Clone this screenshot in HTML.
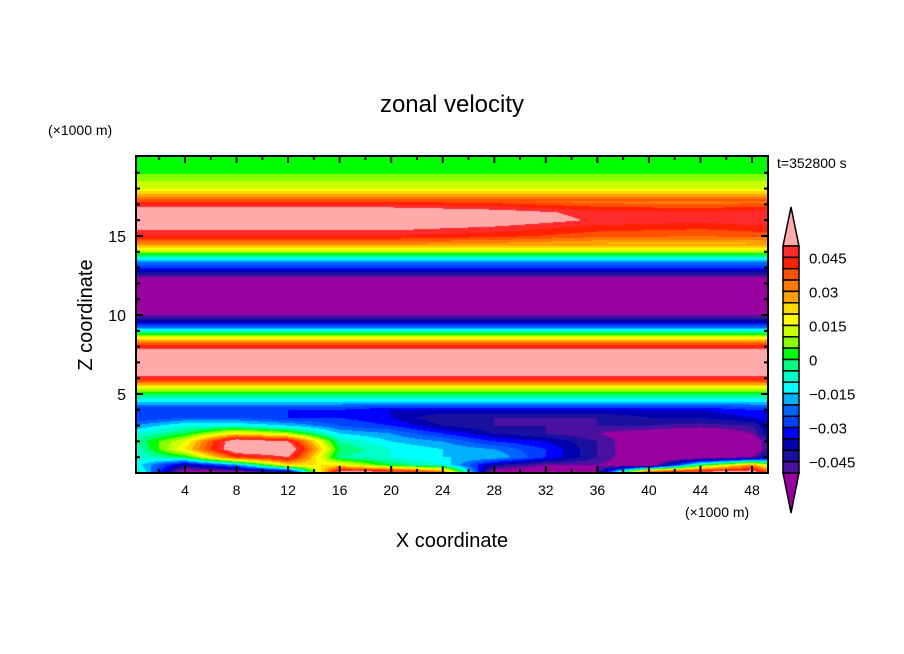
<!DOCTYPE html>
<html><head><meta charset="utf-8"><style>
body{margin:0;background:#fff;width:904px;height:654px;overflow:hidden;font-family:"Liberation Sans",sans-serif}
#wrap{position:relative;width:904px;height:654px}
canvas{position:absolute;left:136px;top:156px}
svg{position:absolute;left:0;top:0}
</style></head><body>
<div id="wrap">
<canvas id="cv" width="632" height="317"></canvas>
<svg id="sv" width="904" height="654">
<text x="452" y="112" font-size="24" text-anchor="middle" font-family="Liberation Sans">zonal velocity</text>
<text x="48" y="135" font-size="14">(×1000 m)</text>
<text x="777" y="168" font-size="14">t=352800 s</text>
<text x="685" y="517" font-size="14">(×1000 m)</text>
<text x="452" y="547" font-size="20" text-anchor="middle">X coordinate</text>
<text x="92" y="315" font-size="20" text-anchor="middle" transform="rotate(-90 92 315)">Z coordinate</text>
<g id="axes"></g>
<g id="cbar"></g>
</svg>
</div>
<script>
const lowerZ=[0,0.5,1,1.5,2,2.5,3,3.5,4,4.5];
const lowerX=[0,4,8,12,16,20,24,28,32,36,40,44,48,50];
const lowerU=[
[0.0,-0.06,-0.06,-0.05,0.06,0.06,0.04,-0.06,-0.06,-0.05,0.06,0.06,0.06,0.03],
[-0.01,-0.04,-0.02,0.02,0.02,0.0,-0.01,-0.04,-0.05,-0.05,-0.06,0.0,0.03,0.0],
[-0.01,0.0,0.04,0.05,-0.005,-0.01,-0.015,-0.015,-0.03,-0.045,-0.06,-0.06,-0.05,-0.03],
[-0.01,0.02,0.06,0.06,0.0,-0.01,-0.015,-0.02,-0.03,-0.045,-0.06,-0.06,-0.06,-0.035],
[-0.005,0.015,0.06,0.05,-0.005,-0.015,-0.02,-0.03,-0.035,-0.045,-0.06,-0.06,-0.06,-0.035],
[-0.01,0.0,0.02,0.01,-0.015,-0.02,-0.03,-0.04,-0.045,-0.05,-0.055,-0.06,-0.05,-0.03],
[-0.02,-0.01,-0.01,-0.015,-0.025,-0.03,-0.04,-0.045,-0.045,-0.045,-0.045,-0.047,-0.045,-0.03],
[-0.03,-0.025,-0.025,-0.03,-0.03,-0.035,-0.045,-0.045,-0.045,-0.045,-0.04,-0.04,-0.035,-0.03],
[-0.03,-0.03,-0.03,-0.03,-0.03,-0.035,-0.035,-0.035,-0.035,-0.035,-0.035,-0.035,-0.03,-0.03],
[-0.015,-0.015,-0.015,-0.015,-0.015,-0.015,-0.015,-0.015,-0.015,-0.015,-0.015,-0.015,-0.015,-0.015]];
const profZ0=5, profDz=0.5;
const profU=[0.0,0.02,0.047,0.06,0.065,0.06,0.045,0.02,-0.01,-0.035,-0.05,-0.065,-0.07,-0.07,-0.065,-0.047,-0.03,-0.015,0.01,0.03,0.045,0.052,0.06,0.058,0.045,0.03,0.015,0.01,0.004,0.003,0.002];
const upperX=[0,10,20,28,36,44,50];
const upperPeak=[0.06,0.06,0.06,0.056,0.049,0.047,0.05];
const binColors=["#ff2a2a","#ff2000","#ff5000","#ff7800","#ffa000","#ffd800","#ffff00","#ccff00","#88ff00","#00ff00","#00ff80","#00ffc8","#00ffff","#00b0ff","#0064ff","#0040ff","#0000ff","#0000b0","#1a10a0","#4a10a0"];
const overColor="#ffaaaa", underColor="#9900a0";
const tickLabels=["0.045","0.03","0.015","0","\u22120.015","\u22120.03","\u22120.045"];
const tickVals=[0.045,0.03,0.015,0,-0.015,-0.03,-0.045];
const xTicks=[4,8,12,16,20,24,28,32,36,40,44,48];
const zTicks=[5,10,15];

const PX0=136,PX1=768,PY0=156,PY1=473;
const sx=v=>185+(v-4)*(752-185)/44;
const sz=v=>473-v*15.8;
const ix=p=>4+(p-185)*44/(752-185);
const iz=p=>(473-p)/15.8;
function lerp(a,b,t){return a+(b-a)*t}
function interpArr(xs,ys,x){if(x<=xs[0])return ys[0];for(let i=0;i<xs.length-1;i++){if(x<=xs[i+1])return lerp(ys[i],ys[i+1],(x-xs[i])/(xs[i+1]-xs[i]));}return ys[ys.length-1];}
function profAt(z){const f=(z-profZ0)/profDz;const i=Math.max(0,Math.min(profU.length-2,Math.floor(f)));return lerp(profU[i],profU[i+1],Math.max(0,Math.min(1,f-i)));}
function field(x,z){
  if(z<=4.5){const f=z/0.5;const i=Math.min(8,Math.floor(f));const t=f-i;
    return lerp(interpArr(lowerX,lowerU[i],x),interpArr(lowerX,lowerU[i+1],x),t);}
  if(z<5){return lerp(interpArr(lowerX,lowerU[9],x),profAt(5),(z-4.5)/0.5);}
  let v=profAt(z);
  if(z>14.5&&z<17.2&&v>0){v=v*interpArr(upperX,upperPeak,x)/0.06;}
  return v;
}
function colorOf(v){if(v>=0.05)return overColor;if(v<-0.05)return underColor;let k=Math.floor((0.05-v)/0.005);return binColors[Math.max(0,Math.min(19,k))];}
function hex(c){return [parseInt(c.slice(1,3),16),parseInt(c.slice(3,5),16),parseInt(c.slice(5,7),16)];}
const cv=document.getElementById('cv'),ctx=cv.getContext('2d');
const img=ctx.createImageData(632,317);
for(let py=0;py<317;py++){const z=iz(py+PY0+0.5);for(let px=0;px<632;px++){const x=ix(px+PX0+0.5);const c=hex(colorOf(field(x,z)));const o=(py*632+px)*4;img.data[o]=c[0];img.data[o+1]=c[1];img.data[o+2]=c[2];img.data[o+3]=255;}}
ctx.putImageData(img,0,0);

const NS="http://www.w3.org/2000/svg";
function mk(tag,attrs,parent){const e=document.createElementNS(NS,tag);for(const k in attrs)e.setAttribute(k,attrs[k]);parent.appendChild(e);return e;}
const ax=document.getElementById('axes');
const frame=mk('rect',{x:PX0,y:PY0,width:PX1-PX0,height:PY1-PY0,fill:'none',stroke:'#000','stroke-width':2},ax);


for(let v=2;v<=48;v+=2){const major=v%4===0;const L=major?7:4;const X=sx(v);
  mk('line',{x1:X,y1:PY1,x2:X,y2:PY1-L,stroke:'#000','stroke-width':2},ax);
  mk('line',{x1:X,y1:PY0,x2:X,y2:PY0+L,stroke:'#000','stroke-width':2},ax);}
for(let v=1;v<=19;v++){const major=v%5===0;const L=major?7:4;const Y=sz(v);
  mk('line',{x1:PX0,y1:Y,x2:PX0+L,y2:Y,stroke:'#000','stroke-width':2},ax);
  mk('line',{x1:PX1,y1:Y,x2:PX1-L,y2:Y,stroke:'#000','stroke-width':2},ax);}
xTicks.forEach(v=>{const t=mk('text',{x:sx(v),y:495,'font-size':14,'text-anchor':'middle'},ax);t.textContent=v;
  
  });
zTicks.forEach(v=>{const t=mk('text',{x:126,y:sz(v)+6,'font-size':16,'text-anchor':'end'},ax);t.textContent=v;
  
  });

const cb=document.getElementById('cbar');
const CX0=783,CX1=799,CT=246,CB=473,bh=(CB-CT)/20;
const up=mk('polygon',{points:`${CX0},${CT} ${(CX0+CX1)/2},207 ${CX1},${CT}`,fill:overColor,stroke:'#000','stroke-width':1.5},cb);


const dn=mk('polygon',{points:`${CX0},${CB} ${(CX0+CX1)/2},513 ${CX1},${CB}`,fill:underColor,stroke:'#000','stroke-width':1.5},cb);


binColors.forEach((c,i)=>{const r=mk('rect',{x:CX0,y:CT+i*bh,width:CX1-CX0,height:bh,fill:c,stroke:'#000','stroke-width':1.5},cb);
  
  });
tickVals.forEach((v,i)=>{const Y=CT+(0.05-v)/0.005*bh;const t=mk('text',{x:809,y:Y+6,'font-size':15},cb);t.textContent=tickLabels[i];
  
  });
</script>
</body></html>
